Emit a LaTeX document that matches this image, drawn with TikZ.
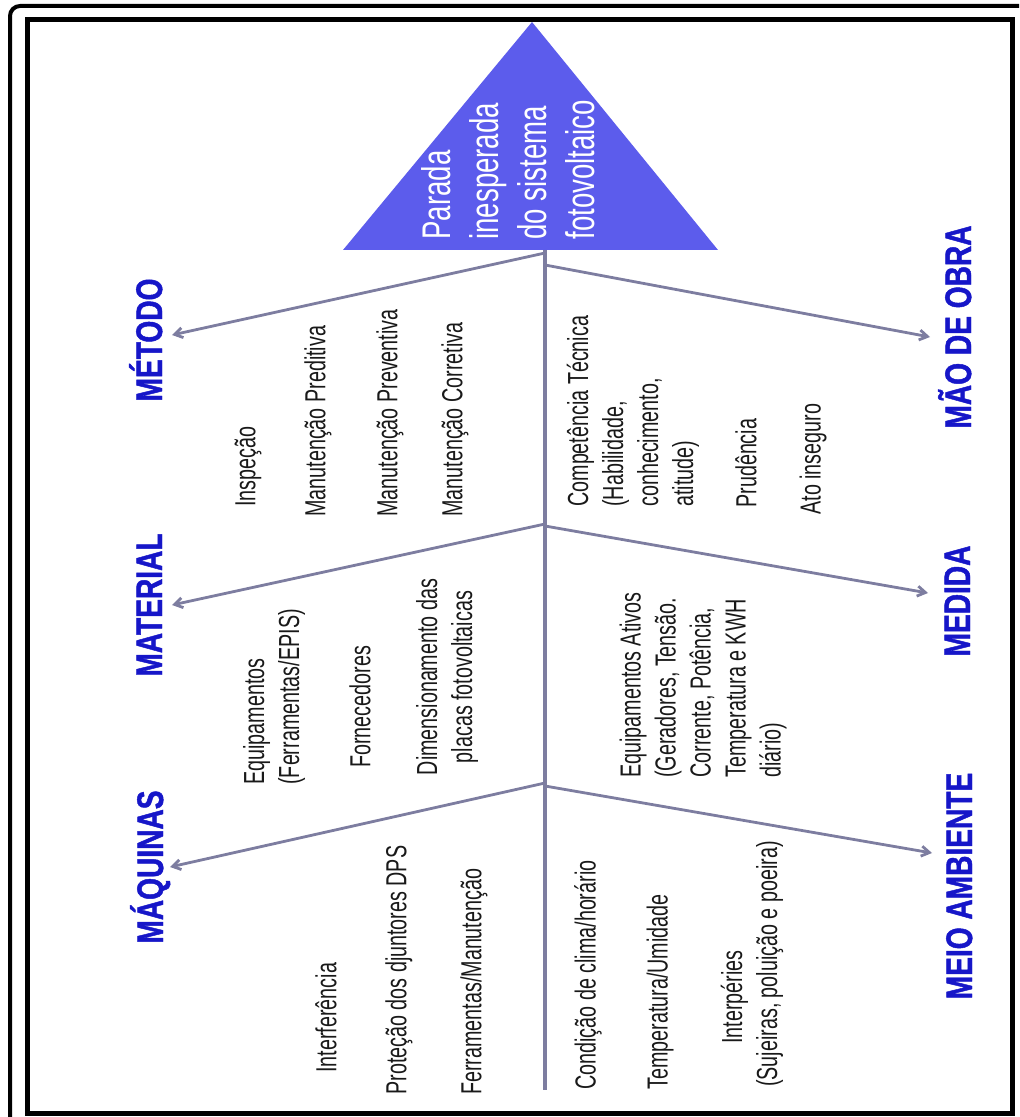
\documentclass[tikz,border=0pt]{standalone}
\usepackage{fontspec}
\usepackage{tikz}
\usetikzlibrary{arrows.meta}
\newfontfamily\itemfont[FakeStretch=0.68]{Liberation Sans}
\newfontfamily\catfont[FakeStretch=0.76,FakeBold=1.2]{Liberation Sans Bold}
\newfontfamily\titlefont[FakeStretch=0.69]{Liberation Sans}
\definecolor{catblue}{RGB}{22,22,200}
\definecolor{bonegray}{RGB}{125,125,160}
\definecolor{trifill}{RGB}{92,92,236}

\begin{document}
\begin{tikzpicture}[x=0.5pt,y=0.5pt]
\tikzstyle{every node}+=[inner sep=0pt]
\tikzstyle{cat}=[rotate=90,anchor=base,text=catblue,font=\catfont\fontsize{18.5}{22}\selectfont]
\tikzstyle{item}=[rotate=90,anchor=west,text=black!90,font=\itemfont\fontsize{14.5}{17.5}\selectfont]
\tikzstyle{bone}=[draw=bonegray,line width=1.6pt]
\tikzstyle{branch}=[bone,line width=1.4pt,-{Straight Barb[length=4pt,width=5pt]}]
\useasboundingbox (0,0) rectangle (1019,-1117);
\clip (0,0) rectangle (1019,-1117);
\draw [black,line width=2pt,rounded corners=5] (10,-1140) -- (10,-6) -- (1040,-6);
\draw [black,line width=2.5pt] (27,-20) rectangle (1012,-1113);
\fill [trifill] (343,-250) -- (532,-22) -- (718,-250) -- cycle;
\node [rotate=90,anchor=west,align=left,text=white,font=\titlefont\fontsize{20}{24}\selectfont] (effect) at (508,-240) {Parada\\inesperada\\do sistema\\fotovoltaico};
\coordinate (spinetop) at (545,-250);
\coordinate (spinebot) at (545,-1090);
\coordinate (jL1) at (545,-253);
\coordinate (jR1) at (545,-265);
\coordinate (jL2) at (545,-524);
\coordinate (jR2) at (545,-526);
\coordinate (jL3) at (545,-783);
\coordinate (jR3) at (545,-786);
\coordinate (tipMetodo) at (172,-335);
\coordinate (tipMaterial) at (172,-605);
\coordinate (tipMaquinas) at (170,-867);
\coordinate (tipMaoObra) at (930,-337);
\coordinate (tipMedida) at (928,-593);
\coordinate (tipMeio) at (932,-853);
\node [cat] (metodo) at (162,-340) {MÉTODO};
\node [cat] (material) at (162,-605) {MATERIAL};
\node [cat] (maquinas) at (163,-867) {MÁQUINAS};
\node [cat] (maoobra) at (971,-327) {MÃO DE OBRA};
\node [cat] (medida) at (970,-601) {MEDIDA};
\node [cat] (meioamb) at (972,-886) {MEIO AMBIENTE};
\node [item] (insp) at (248,-507) {Inspeção};
\node [item] (mpred) at (318,-517) {Manutenção Preditiva};
\node [item] (mprev) at (390,-517) {Manutenção Preventiva};
\node [item] (mcorr) at (455,-517) {Manutenção Corretiva};
\node [item,align=left] (equip) at (274,-785) {Equipamentos\\(Ferramentas/EPIS)};
\node [item] (fornec) at (360,-768) {Fornecedores};
\node [item,anchor=center,align=center] (dimens) at (447,-677) {Dimensionamento das\\placas fotovoltaicas};
\node [item] (interf) at (326,-1073) {Interferência};
\node [item] (protec) at (399,-1095) {Proteção dos djuntores DPS};
\node [item] (ferram) at (474,-1095) {Ferramentas/Manutenção};
\node [item,align=left] (compet) at (633,-507) {Competência Técnica\\(Habilidade,\\conhecimento,\\atitude)};
\node [item] (prud) at (746,-508) {Prudência};
\node [item] (ato) at (813,-515) {Ato inseguro};
\node [item,align=left] (eqativ) at (703,-778) {Equipamentos Ativos\\(Geradores, Tensão.\\Corrente, Potência,\\Temperatura e KWH\\diário)};
\node [item] (clima) at (588,-1090) {Condição de clima/horário};
\node [item] (tempum) at (660,-1090) {Temperatura/Umidade};
\node [item,anchor=center,align=center] (intemp) at (752,-964) {Interpéries\hspace*{33pt}\\(Sujeiras, poluição e poeira)};
\draw [bone] (spinetop) -- (spinebot);
\draw [branch] (jL1) -- (tipMetodo);
\draw [branch] (jL2) -- (tipMaterial);
\draw [branch] (jL3) -- (tipMaquinas);
\draw [branch] (jR1) -- (tipMaoObra);
\draw [branch] (jR2) -- (tipMedida);
\draw [branch] (jR3) -- (tipMeio);
\end{tikzpicture}
\end{document}
